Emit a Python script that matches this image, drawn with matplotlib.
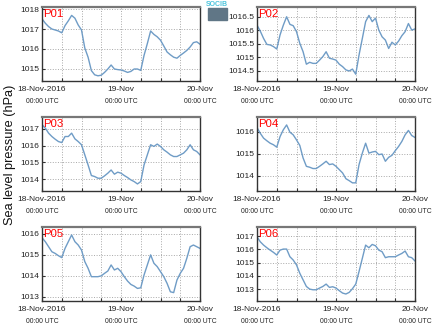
import numpy as np
import pandas as pd
import matplotlib
matplotlib.use('Agg')
import matplotlib.pyplot as plt
import matplotlib.dates as mdates
from matplotlib.ticker import FuncFormatter

plt.rcParams['font.family'] = ['Liberation Sans', 'DejaVu Sans']

# hourly sea level pressure (hPa), 18-Nov-2016 00:00 -> 20-Nov-2016 00:00 UTC
times = pd.date_range('2016-11-18 00:00', periods=49, freq='h')

p01 = [1017.51, 1017.29, 1017.12, 1017.00, 1016.95, 1016.90, 1016.81, 1017.17, 1017.41, 1017.68,
       1017.54, 1017.20, 1016.95, 1016.05, 1015.59, 1014.92, 1014.71, 1014.66, 1014.69, 1014.83,
       1015.00, 1015.20, 1015.00, 1014.97, 1014.95, 1014.90, 1014.83, 1014.88, 1015.00, 1015.00,
       1014.93, 1015.68, 1016.27, 1016.90, 1016.73, 1016.61, 1016.44, 1016.15, 1015.85, 1015.71,
       1015.59, 1015.54, 1015.68, 1015.80, 1015.93, 1016.10, 1016.32, 1016.36, 1016.24]
p02 = [1016.19, 1015.97, 1015.70, 1015.48, 1015.46, 1015.40, 1015.31, 1015.83, 1016.19, 1016.50,
       1016.22, 1016.17, 1015.95, 1015.52, 1015.21, 1014.75, 1014.82, 1014.78, 1014.78, 1014.90,
       1015.03, 1015.21, 1014.97, 1014.94, 1014.90, 1014.75, 1014.66, 1014.54, 1014.50, 1014.57,
       1014.38, 1015.09, 1015.70, 1016.32, 1016.55, 1016.32, 1016.45, 1016.01, 1015.76, 1015.64,
       1015.33, 1015.56, 1015.46, 1015.60, 1015.80, 1015.95, 1016.25, 1016.01, 1016.05]
p03 = [1017.24, 1017.04, 1016.74, 1016.54, 1016.38, 1016.24, 1016.18, 1016.54, 1016.54, 1016.74,
       1016.40, 1016.24, 1016.05, 1015.45, 1014.85, 1014.22, 1014.16, 1014.06, 1014.06, 1014.20,
       1014.36, 1014.55, 1014.30, 1014.42, 1014.36, 1014.22, 1014.10, 1013.96, 1013.86, 1013.72,
       1013.86, 1014.85, 1015.45, 1016.05, 1015.95, 1016.09, 1015.95, 1015.75, 1015.61, 1015.45,
       1015.35, 1015.35, 1015.45, 1015.55, 1015.75, 1016.05, 1015.75, 1015.65, 1015.45]
p04 = [1016.18, 1015.92, 1015.70, 1015.58, 1015.47, 1015.40, 1015.29, 1015.77, 1016.08, 1016.30,
       1015.97, 1015.85, 1015.62, 1015.37, 1014.80, 1014.42, 1014.38, 1014.32, 1014.32, 1014.42,
       1014.53, 1014.65, 1014.50, 1014.53, 1014.42, 1014.27, 1014.12, 1013.86, 1013.77, 1013.67,
       1013.67, 1014.50, 1015.02, 1015.47, 1015.02, 1015.07, 1015.10, 1014.95, 1014.98, 1014.65,
       1014.83, 1014.92, 1015.13, 1015.32, 1015.55, 1015.85, 1016.05, 1015.82, 1015.73]
p05 = [1015.82, 1015.63, 1015.39, 1015.15, 1015.07, 1014.96, 1014.87, 1015.31, 1015.63, 1015.95,
       1015.63, 1015.47, 1015.23, 1014.68, 1014.36, 1013.96, 1013.96, 1013.96, 1014.00, 1014.12,
       1014.23, 1014.52, 1014.28, 1014.36, 1014.20, 1013.96, 1013.75, 1013.59, 1013.51, 1013.40,
       1013.43, 1014.04, 1014.52, 1015.00, 1014.60, 1014.44, 1014.20, 1013.96, 1013.64, 1013.24,
       1013.20, 1013.80, 1014.12, 1014.36, 1014.84, 1015.39, 1015.47, 1015.39, 1015.31]
p06 = [1016.95, 1016.58, 1016.33, 1016.13, 1015.95, 1015.78, 1015.58, 1015.95, 1016.03, 1016.03,
       1015.45, 1015.20, 1014.83, 1014.20, 1013.70, 1013.20, 1013.00, 1012.95, 1012.95, 1013.08,
       1013.20, 1013.38, 1013.13, 1013.18, 1013.08, 1012.88, 1012.70, 1012.63, 1012.75, 1013.03,
       1013.38, 1014.33, 1015.33, 1016.33, 1016.13, 1016.38, 1016.28, 1015.95, 1015.83, 1015.38,
       1015.45, 1015.45, 1015.45, 1015.58, 1015.70, 1015.88, 1015.45, 1015.38, 1015.13]

names = ['P01', 'P02', 'P03', 'P04', 'P05', 'P06']
series = [p01, p02, p03, p04, p05, p06]
ylims = [(1014.4, 1018.1), (1014.13, 1016.86), (1013.3, 1017.7),
         (1013.3, 1016.66), (1012.8, 1016.33), (1012.1, 1017.7)]
yticks = [[1015, 1016, 1017, 1018], [1014.5, 1015, 1015.5, 1016, 1016.5], [1014, 1015, 1016, 1017],
          [1014, 1015, 1016], [1013, 1014, 1015, 1016], [1013, 1014, 1015, 1016, 1017]]
day_labels = ['18-Nov-2016', '19-Nov', '20-Nov']

W, H = 434, 327
fig = plt.figure(figsize=(W / 100, H / 100), dpi=100)

lefts = [42, 257]
tops = [7, 117, 227]
aw, ah = 158, 74

days = pd.date_range('2016-11-18', periods=3, freq='D')

for i, (name, vals) in enumerate(zip(names, series)):
    r, c = divmod(i, 2)
    ax = fig.add_axes([lefts[c] / W, 1 - (tops[r] + ah) / H, aw / W, ah / H])
    ax.plot(times, vals, color='#6f9cc6', lw=1.0)
    ax.set_xlim(days[0], days[-1])
    ax.set_ylim(*ylims[i])
    ax.set_yticks(yticks[i])
    ax.yaxis.set_major_formatter(FuncFormatter(lambda v, p: '%g' % v))
    ax.set_xticks(days)
    ax.set_xticklabels(day_labels)
    ax.xaxis.set_minor_locator(mdates.HourLocator(byhour=[6, 12, 18]))
    ax.grid(True, which='both', axis='x', ls=':', color='#a8a8a8', lw=0.7)
    ax.grid(True, which='major', axis='y', ls=':', color='#a8a8a8', lw=0.7)
    ax.tick_params(axis='both', which='both', direction='in', length=2.5, width=0.8,
                   color='#333333', labelsize=6, labelcolor='#222222', pad=2)
    ax.tick_params(axis='x', which='major', pad=3.5)
    for sp in ax.spines.values():
        sp.set_color('#333333')
        sp.set_linewidth(1.0)
    ax.spines['top'].set_color('#777777')
    ax.spines['top'].set_linewidth(1.6)
    for d in days:
        ax.text(mdates.date2num(d), -0.23, '00:00 UTC', transform=ax.get_xaxis_transform(),
                ha='center', va='top', fontsize=4.9, color='#222222')
    ax.text(0.01, 0.97, name, transform=ax.transAxes, ha='left', va='top',
            fontsize=8.2, color='red')

fig.text(10 / W, 1 - 155 / H, 'Sea level pressure (hPa)', rotation=90, ha='center', va='center',
         fontsize=9.2, color='#111111')

# small SOCIB logo
fig.text(217 / W, 1 - 4 / H, 'SOCIB', ha='center', va='center', fontsize=5,
         color='#4cc4dc', fontweight='bold')
fig.patches.append(plt.Rectangle((208 / W, 1 - 20 / H), 19 / W, 12 / H,
                                 transform=fig.transFigure, color='#607686', zorder=1))

fig.savefig('out.png', dpi=100)
